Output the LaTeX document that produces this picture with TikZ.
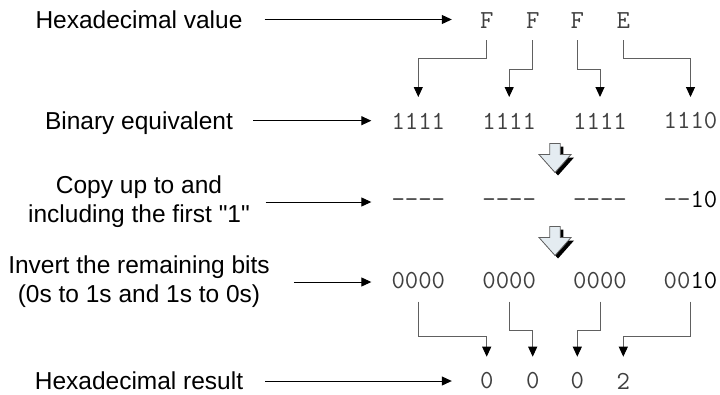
\documentclass[tikz,border=0pt]{standalone}
\usepackage{fontspec}
\setmainfont{Liberation Sans}
\usetikzlibrary{arrows.meta}
\definecolor{monogray}{RGB}{64,64,64}
\definecolor{conngray}{RGB}{96,96,96}
\definecolor{blockfill}{RGB}{228,236,241}
\newcommand\labfnt{\fontsize{24.5}{29}\selectfont}
\newcommand\monofnt{\ttfamily\fontsize{26}{30}\selectfont}
\tikzset{
  lab/.style={font=\labfnt, inner sep=0pt, text depth=0pt},
  labtwo/.style={font=\labfnt, inner sep=0pt, align=center},
  mono/.style={font=\monofnt, text=monogray, inner sep=0pt},
  arr/.style={-{Triangle[length=10pt,width=9pt]}, line width=1pt, black},
  conn/.style={-{Triangle[length=10pt,width=9pt,color=black]}, line width=1pt, conngray},
  blockdown/.pic={
    \fill[black] (-2.3,3) -- (8.3,3) -- (8.3,14) -- (19,14) -- (3,32) -- (-13,14) -- (-2.3,14) -- cycle;
    \draw[fill=blockfill, draw=conngray, line width=0.8pt] (-5.3,0) -- (5.3,0) -- (5.3,11) -- (16,11) -- (0,29) -- (-16,11) -- (-5.3,11) -- cycle;
  }
}
\begin{document}
\begin{tikzpicture}[x=1pt,y=-1pt]
\useasboundingbox (0,0) rectangle (720,394);
% labels
\node[lab] (l1) at (139,19.5) {Hexadecimal value};
\node[lab] (l2) at (139,120.7) {Binary equivalent};
\node[labtwo] (l3) at (139,202) {Copy up to and\\including the first \textquotedbl 1\textquotedbl};
\node[labtwo] (l4) at (139,282) {Invert the remaining bits\\(0s to 1s and 1s to 0s)};
\node[lab] (l5) at (139,381) {Hexadecimal result};
% hex value
\node[mono] (h1) at (486.7,21) {F};
\node[mono] (h2) at (532.7,21) {F};
\node[mono] (h3) at (577.3,21) {F};
\node[mono] (h4) at (623.3,21) {E};
% binary
\node[mono] (b1) at (418.3,121) {1111};
\node[mono] (b2) at (509.2,121) {1111};
\node[mono] (b3) at (600,121) {1111};
\node[mono] (b4) at (690.5,121) {1110};
% copy
\node[mono] (d1) at (418.3,200) {\vphantom{0}----};
\node[mono] (d2) at (509.2,200) {\vphantom{0}----};
\node[mono] (d3) at (600,200) {\vphantom{0}----};
\node[mono] (d4) at (690.5,200) {--\textcolor{black}{10}};
% invert
\node[mono] (i1) at (418.3,281) {0000};
\node[mono] (i2) at (509.2,281) {0000};
\node[mono] (i3) at (600,281) {0000};
\node[mono] (i4) at (690.5,281) {00\textcolor{black}{10}};
% result
\node[mono] (r1) at (486.7,381) {0};
\node[mono] (r2) at (532.7,381) {0};
\node[mono] (r3) at (577.3,381) {0};
\node[mono] (r4) at (623.3,381) {2};
% label arrows
\draw[arr, shorten >=28pt] ([xshift=22pt]l1.east) -- (l1.east -| h1.west);
\draw[arr, shorten >=20pt] ([xshift=20pt]l2.east) -- (l2.east -| b1.west);
\draw[arr, shorten >=20pt] ([xshift=15.6pt]l3.east) -- (l3.east -| d1.west);
\draw[arr, shorten >=20pt] ([xshift=24pt]l4.east) -- (l4.east -| i1.west);
\draw[arr, shorten >=28pt] ([xshift=21.7pt]l5.east) -- (l5.east -| r1.west);
% hex to binary
\draw[conn] ([yshift=-19pt]h1.center) -- ([yshift=-37.3pt]h1.center) -| ([yshift=24pt]b1.center);
\draw[conn] ([yshift=-19pt]h2.center) -- ([yshift=-48.3pt]h2.center) -| ([yshift=24pt]b2.center);
\draw[conn] ([yshift=-19pt]h3.center) -- ([yshift=-48.3pt]h3.center) -| ([yshift=24pt]b3.center);
\draw[conn] ([yshift=-19pt]h4.center) -- ([yshift=-37.3pt]h4.center) -| ([yshift=24pt]b4.center);
% block arrows
\pic at (555,143.5) {blockdown};
\pic at (555,226.5) {blockdown};
% invert to result
\draw[conn] ([yshift=-20.7pt]i1.center) -- ([yshift=-55pt]i1.center) -| ([yshift=24.3pt]r1.center);
\draw[conn] ([yshift=-20.7pt]i2.center) -- ([yshift=-49pt]i2.center) -| ([yshift=24.3pt]r2.center);
\draw[conn] ([yshift=-20.7pt]i3.center) -- ([yshift=-49pt]i3.center) -| ([yshift=24.3pt]r3.center);
\draw[conn] ([yshift=-20.7pt]i4.center) -- ([yshift=-55pt]i4.center) -| ([yshift=24.3pt]r4.center);
\end{tikzpicture}
\end{document}
